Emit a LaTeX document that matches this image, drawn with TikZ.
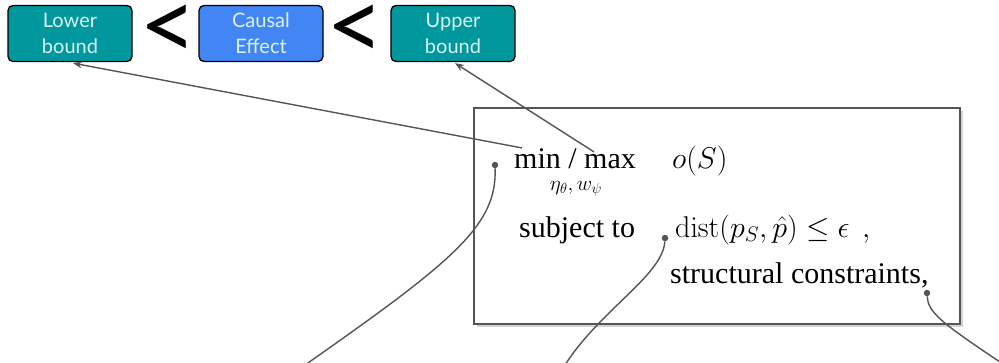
\RequirePackage{fix-cm}
\documentclass[tikz,border=0pt]{standalone}
\usepackage[no-math]{fontspec}
\usepackage{amsmath}
\setmainfont{Liberation Serif}
\newfontfamily\tagfont{Lato}
\usetikzlibrary{shadows,arrows.meta}
\tikzset{>={Stealth[length=9pt,width=7pt]}}

\definecolor{boundteal}{HTML}{00979D}
\definecolor{effblue}{HTML}{4285F4}
\definecolor{tagtext}{HTML}{D9F2F2}
\definecolor{wiregray}{HTML}{555555}

\tikzset{
  tag/.style={draw=black,line width=1.3pt,rounded corners=5pt,inner sep=0pt,
    minimum width=124pt,minimum height=56pt,align=center,text=tagtext,
    font=\tagfont\fontsize{20}{26}\selectfont},
  less/.style={inner sep=0pt,font=\tagfont\fontsize{100}{100}\selectfont},
  wire/.style={draw=wiregray,line width=1.4pt},
  pin/.style={circle,fill=wiregray,inner sep=0pt,minimum size=6.5pt},
  eq/.style={anchor=base west,inner sep=0pt,font=\fontsize{30}{36}\selectfont},
}

\begin{document}
\begin{tikzpicture}[x=1pt,y=-1pt]
  \useasboundingbox (0,0) rectangle (999,362);
  % bounds on the effect
  \node[tag,fill=boundteal] (lower) at (70,33.5) {Lower\\bound};
  \node[tag,fill=effblue] (effect) at (261,33.5) {Causal\\Effect};
  \node[tag,fill=boundteal] (upper) at (453,33.5) {Upper\\bound};
  \node[less] (lt1) at (168,33) {<};
  \node[less] (lt2) at (355,33) {<};

  % the optimisation problem
  \node[draw=wiregray,line width=1.8pt,fill=white,inner sep=0pt,
    minimum width=486pt,minimum height=216pt,
    drop shadow={shadow xshift=3pt,shadow yshift=-3pt,opacity=0.35}] (prob) at (717,216) {};
  \node[eq] (minmax) at (514,168) {min / max};
  \node[eq,anchor=base,font=\fontsize{21}{24}\selectfont] (minsub) at (576,190) {$\eta_\theta,w_\psi$};
  \node[eq] (obj) at (672,168) {$o(S)$};
  \node[eq] (subj) at (519,237) {subject to};
  \node[eq] (dist) at (675,237) {$\operatorname{dist}(p_S,\hat{p})\leq\epsilon\ \,,$};
  \node[eq] (struct) at (670,283) {structural constraints,};

  % pins and loose ends
  \node[pin] (pa) at (495,165) {};
  \node[pin] (pb) at (665,238) {};
  \node[pin] (pc) at (927,293) {};
  \coordinate (ea) at (305,365);
  \coordinate (eb) at (565,365);
  \coordinate (ec) at (1003,364);

  \draw[wire,->] ([xshift=8pt]minmax.north west) -- ([xshift=3pt,yshift=-1pt]lower.south);
  \draw[wire,->] ([xshift=-42pt,yshift=-4pt]minmax.north east) -- ([xshift=2pt,yshift=-1pt]upper.south);
  \draw[wire] (pa) .. controls (497,225) and (455,260) .. (ea);
  \draw[wire] (pb) .. controls (663,275) and (600,310) .. (eb);
  \draw[wire] (pc) .. controls (928,312) and (940,322) .. (ec);
\end{tikzpicture}
\end{document}
